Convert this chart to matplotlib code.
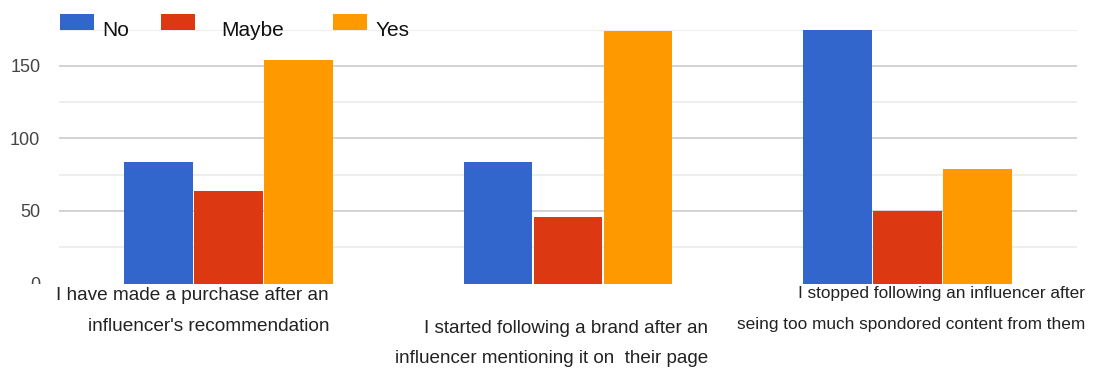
import matplotlib.pyplot as plt
from matplotlib.patches import Rectangle
import numpy as np

plt.rcParams['font.family'] = ['Liberation Sans', 'DejaVu Sans']

statements = [
    "I have made a purchase after an\ninfluencer's recommendation",
    "I started following a brand after an\ninfluencer mentioning it on  their page",
    "I stopped following an influencer after\nseing too much spondored content from them",
]
answers = ["No", "Maybe", "Yes"]
no_counts = [84, 84, 175]
maybe_counts = [64, 46, 50]
yes_counts = [154, 174, 79]

colors = ["#3366CC", "#DC3912", "#FF9900"]

W, H = 1098, 369
fig = plt.figure(figsize=(W / 100, H / 100), dpi=100)
ax = fig.add_axes([59 / W, 1 - 283.5 / H, (1077 - 59) / W, (283.5 - 29.7) / H])

x = np.arange(len(statements))
series = [no_counts, maybe_counts, yes_counts]
step = 0.206
for i, (vals, c) in enumerate(zip(series, colors)):
    ax.bar(x + (i - 1) * step, vals, width=0.202, color=c, zorder=3)

ax.set_xlim(-0.5, 2.5)
ax.set_ylim(0, 175)
ax.set_yticks([0, 50, 100, 150])
ax.set_yticks([25, 75, 125, 175], minor=True)
ax.grid(axis='y', which='major', color='#cccccc', linewidth=1.2, zorder=0)
ax.grid(axis='y', which='minor', color='#ebebeb', linewidth=1.2, zorder=0)
ax.get_ygridlines()[0].set_visible(False)
ax.tick_params(axis='y', which='both', length=0, pad=13.5, labelsize=13, labelcolor='#444444')
ax.set_xticks([])
for s in ax.spines.values():
    s.set_visible(False)

# category labels, right aligned under each group
label_right = [0.296, 0.413, 0.524]
label_top = [-0.012, -0.145, -0.008]
label_size = [13.7, 13.6, 12.4]
label_gap = [2.08, 1.95, 2.35]
for xi, text, dx, ty, fs, ls in zip(x, statements, label_right, label_top, label_size, label_gap):
    ax.text(xi + dx, ty, text, transform=ax.get_xaxis_transform(),
            ha='right', va='top', fontsize=fs, color='#222222',
            linespacing=ls, multialignment='right', zorder=5)

# the zero label is partly hidden under the category row
fig.add_artist(Rectangle((0, 0), 52 / W, 1 - 284 / H, transform=fig.transFigure,
                         facecolor='white', edgecolor='none', zorder=10))

# legend along the top
legend_boxes = [60, 161, 333]
legend_texts = [102, 221, 376]
for name, c, bx, tx in zip(answers, colors, legend_boxes, legend_texts):
    fig.add_artist(Rectangle((bx / W, 1 - 30 / H), 34 / W, 16 / H,
                             transform=fig.transFigure, facecolor=c,
                             edgecolor='none', zorder=10))
    fig.text(tx / W, 1 - 30 / H, name, ha='left', va='center', fontsize=15,
             color='#111111', zorder=10)

fig.savefig("out.png", dpi=100)
